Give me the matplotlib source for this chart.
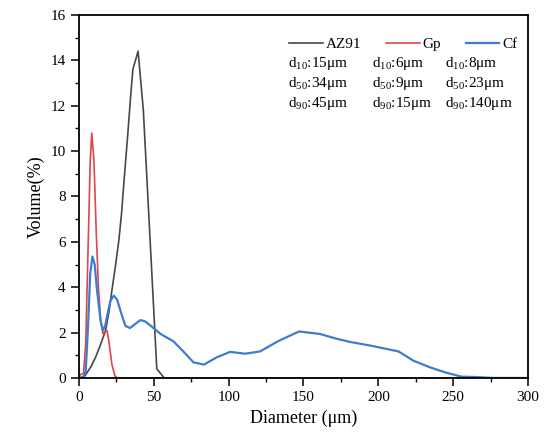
import matplotlib
matplotlib.use("Agg")
import matplotlib.pyplot as plt
from matplotlib.ticker import MultipleLocator

plt.rcParams['font.family'] = ['Liberation Serif', 'DejaVu Serif']
plt.rcParams['mathtext.fontset'] = 'custom'
plt.rcParams['mathtext.rm'] = 'Liberation Serif'
plt.rcParams['mathtext.it'] = 'Liberation Serif:italic'

# particle size distributions
az91_d = [0, 3, 5, 8, 11, 14, 17.8, 20, 22.3, 24.5, 26.7, 28.5, 30, 32.2, 34.5, 36, 39.5, 43, 52, 57, 300]
az91_v = [0, 0, 0.2, 0.5, 0.9, 1.4, 2.1, 2.9, 4.0, 5.0, 6.1, 7.3, 8.6, 10.4, 12.4, 13.6, 14.4, 11.8, 0.4, 0, 0]

gp_d = [0, 1, 3, 4.5, 6, 7.5, 8.5, 10, 11.5, 13, 14.5, 16, 17, 18.8, 20, 22, 24, 25.6, 300]
gp_v = [0, 0.15, 0.2, 1.5, 5.5, 9.5, 10.8, 9.6, 6.5, 4.0, 2.5, 1.95, 2.0, 2.08, 1.6, 0.6, 0.1, 0, 0]

cf_d = [0, 3, 4.5, 6, 7.5, 9, 10.5, 12, 14.5, 16, 17.5, 19, 21, 23.3, 25.5, 28, 31, 34, 37, 41,
        44, 48, 54.5, 63, 70, 76.5, 83.5, 92, 101, 111, 121, 133, 147, 161, 171, 181, 194.5,
        213.5, 223.5, 234.5, 244.5, 255.5, 265.5, 277, 300]
cf_v = [0, 0.05, 0.3, 2.2, 4.6, 5.35, 5.0, 3.9, 2.5, 2.09, 2.3, 2.8, 3.4, 3.63, 3.45, 2.9, 2.3, 2.2, 2.35, 2.55,
        2.5, 2.3, 1.94, 1.62, 1.15, 0.69, 0.59, 0.91, 1.15, 1.07, 1.17, 1.62, 2.05, 1.94, 1.75, 1.59, 1.43,
        1.17, 0.76, 0.47, 0.25, 0.06, 0.04, 0, 0]

names = ['AZ91', 'Gp', 'Cf']
d10 = ['15', '6', '8']
d50 = ['34', '9', '23']
d90 = ['45', '15', '140']
colors = ['#474747', '#e0454a', '#3d7cd0']

fig = plt.figure(figsize=(5.5, 4.46), dpi=100)
ax = fig.add_axes([0.1436, 0.1525, 0.8164, 0.814])

ax.plot(az91_d, az91_v, color=colors[0], lw=1.2, label=names[0])
ax.plot(gp_d, gp_v, color=colors[1], lw=1.2, label=names[1])
ax.plot(cf_d, cf_v, color=colors[2], lw=1.6, label=names[2])

ax.set_xlim(0, 300)
ax.set_ylim(0, 16)
ax.xaxis.set_major_locator(MultipleLocator(50))
ax.xaxis.set_minor_locator(MultipleLocator(25))
ax.yaxis.set_major_locator(MultipleLocator(2))
ax.yaxis.set_minor_locator(MultipleLocator(1))
ax.tick_params(which='major', direction='out', length=6, width=1.1, labelsize=11)
ax.tick_params(which='minor', direction='out', length=3, width=1.0)
for s in ax.spines.values():
    s.set_linewidth(1.3)

ax.set_xlabel('Diameter (μm)', fontsize=13)
ax.set_ylabel('Volume(%)', fontsize=13)

ax.legend(loc='upper left', bbox_to_anchor=(0.455, 0.955), ncol=3, frameon=False,
          fontsize=11, handlelength=2.2, handletextpad=0.2, columnspacing=1.6,
          borderaxespad=0)

col_x = [0.4655, 0.6526, 0.815]
for i in range(3):
    ax.text(col_x[i], 0.866, r'$\mathregular{d_{10}}$:' + d10[i] + 'μm', transform=ax.transAxes,
            fontsize=11, va='center')
    ax.text(col_x[i], 0.811, r'$\mathregular{d_{50}}$:' + d50[i] + 'μm', transform=ax.transAxes,
            fontsize=11, va='center')
    ax.text(col_x[i], 0.756, r'$\mathregular{d_{90}}$:' + d90[i] + 'μm', transform=ax.transAxes,
            fontsize=11, va='center')

fig.savefig('out.png', dpi=100)
